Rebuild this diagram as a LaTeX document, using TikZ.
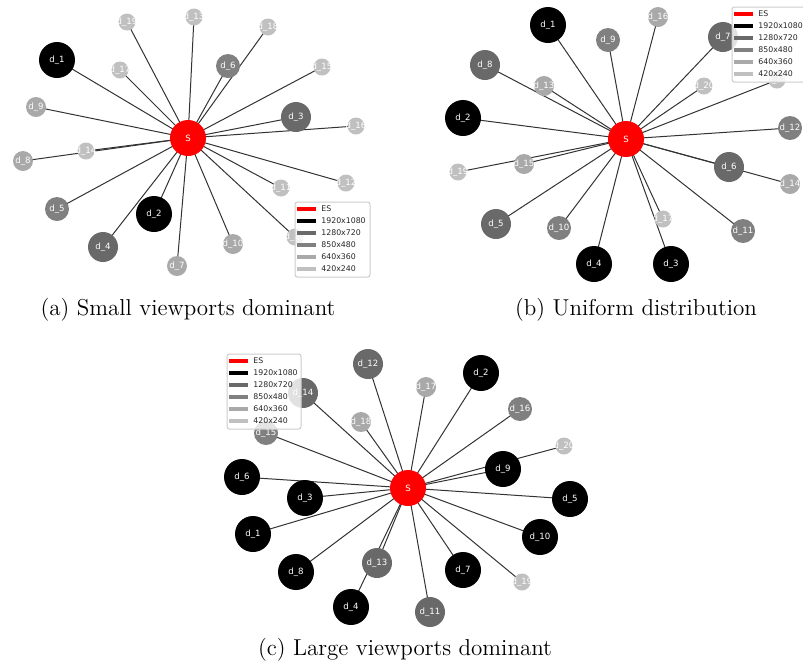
\documentclass[tikz,border=0pt]{standalone}
\usepackage{fontspec}
\newfontfamily\dejavu{DejaVu Sans}
\definecolor{c1280}{HTML}{696969}
\definecolor{c850}{HTML}{808080}
\definecolor{c640}{HTML}{A9A9A9}
\definecolor{c420}{HTML}{C0C0C0}
\pgfdeclarelayer{bg}
\pgfsetlayers{bg,main}
\tikzset{
  dev/.style={circle, inner sep=0pt, draw=none},
  lab/.style={text=white, inner sep=0pt, font=\dejavu\fontsize{4.3}{5}\selectfont},
  rA/.style={dev, fill=black, minimum size=18pt},
  rB/.style={dev, fill=c1280, minimum size=15pt},
  rC/.style={dev, fill=c850, minimum size=12pt},
  rD/.style={dev, fill=c640, minimum size=10pt},
  rE/.style={dev, fill=c420, minimum size=8.5pt},
  es/.style={dev, fill=red, minimum size=18pt},
  link/.style={draw=black!80, line width=0.5pt},
  legbox/.style={draw=black!20, fill=white, fill opacity=0.8, rounded corners=1.2pt, line width=0.5pt},
  legline/.style={line width=2pt},
  legtext/.style={anchor=west, inner sep=0pt, text=black!85, font=\dejavu\fontsize{3.9}{4.5}\selectfont},
  captext/.style={inner sep=0pt, font=\fontsize{11.5}{13}\selectfont}
}
\newcommand\dv[4]{\node[#1, label={[lab]center:d\_#3}] (#2#3) at (#4) {};}
\newcommand\mylegend[5]{%
  \draw[legbox] (#2,#3) rectangle (#4,#5);
  \foreach \c/\t [count=\i from 0] in {red/ES, black/1920x1080, c1280/1280x720, c850/850x480, c640/640x360, c420/420x240} {
    \draw[legline, draw=\c] (#2+2, #3+7+12*\i) -- (#2+21, #3+7+12*\i);
    \node[legtext] (#1\i) at (#2+26, #3+7+12*\i) {\t};
  }%
}
\begin{document}
\begin{tikzpicture}[x=0.5pt, y=-0.5pt]
\useasboundingbox (0,0) rectangle (803,671);
% ---------------- panel (a)
\node[es, label={[lab]center:S}] (Sa) at (188,138) {};
\dv{rA}{a}{1}{57,60}
\dv{rA}{a}{2}{154,214}
\dv{rB}{a}{3}{296,117}
\dv{rB}{a}{4}{103,247}
\dv{rC}{a}{5}{57,209}
\dv{rC}{a}{6}{228,66}
\dv{rD}{a}{7}{177,266}
\dv{rD}{a}{8}{23,161}
\dv{rD}{a}{9}{36,107}
\dv{rD}{a}{10}{233,244}
\dv{rE}{a}{11}{281,188}
\dv{rE}{a}{12}{346,183}
\dv{rE}{a}{13}{194,17}
\dv{rE}{a}{14}{86,151}
\dv{rE}{a}{15}{322,67}
\dv{rE}{a}{16}{356,126}
\dv{rE}{a}{17}{120,70}
\dv{rE}{a}{18}{268,27}
\dv{rE}{a}{19}{127,22}
\dv{rE}{a}{20}{295,237}
% ---------------- panel (b)
\node[es, label={[lab]center:S}] (Sb) at (626,139) {};
\dv{rA}{b}{1}{548,25}
\dv{rA}{b}{2}{463,118}
\dv{rA}{b}{3}{671,264}
\dv{rA}{b}{4}{594,264}
\dv{rB}{b}{5}{496,224}
\dv{rB}{b}{6}{729,167}
\dv{rB}{b}{7}{723,37}
\dv{rB}{b}{8}{485,65}
\dv{rC}{b}{9}{608,40}
\dv{rC}{b}{10}{559,228}
\dv{rC}{b}{11}{743,231}
\dv{rC}{b}{12}{790,128}
\dv{rD}{b}{13}{544,86}
\dv{rD}{b}{14}{790,184}
\dv{rD}{b}{15}{524,164}
\dv{rD}{b}{16}{658,17}
\dv{rE}{b}{17}{663,219}
\dv{rE}{b}{18}{777,80}
\dv{rE}{b}{19}{458,172}
\dv{rE}{b}{20}{704,86}
% ---------------- panel (c)
\node[es, label={[lab]center:S}] (Sc) at (408,488) {};
\dv{rA}{c}{1}{253,534}
\dv{rA}{c}{2}{481,373}
\dv{rA}{c}{3}{305,498}
\dv{rA}{c}{4}{351,607}
\dv{rA}{c}{5}{570,499}
\dv{rA}{c}{6}{242,477}
\dv{rA}{c}{7}{463,570}
\dv{rA}{c}{8}{296,572}
\dv{rA}{c}{9}{503,469}
\dv{rA}{c}{10}{540,537}
\dv{rB}{c}{11}{430,612}
\dv{rB}{c}{12}{368,364}
\dv{rB}{c}{13}{377,563}
\dv{rB}{c}{14}{303,393}
\dv{rC}{c}{15}{266,433}
\dv{rC}{c}{16}{520,409}
\dv{rD}{c}{17}{426,387}
\dv{rD}{c}{18}{361,422}
\dv{rE}{c}{19}{522,582}
\dv{rE}{c}{20}{564,446}
% ---------------- edges behind nodes
\begin{pgfonlayer}{bg}
  \foreach \p in {a,b,c} {
    \foreach \n in {1,...,20} {
      \draw[link] (S\p.center) -- (\p\n.center);
    }
  }
\end{pgfonlayer}
% ---------------- legends
\mylegend{la}{295}{202}{370}{277}
\mylegend{lb}{732}{7}{806}{82}
\mylegend{lc}{227}{354}{301}{429}
% ---------------- captions
\node[captext] (capa) at (188,310) {(a) Small viewports dominant};
\node[captext] (capb) at (636,310) {(b) Uniform distribution};
\node[captext] (capc) at (405,650) {(c) Large viewports dominant};
\end{tikzpicture}
\end{document}
